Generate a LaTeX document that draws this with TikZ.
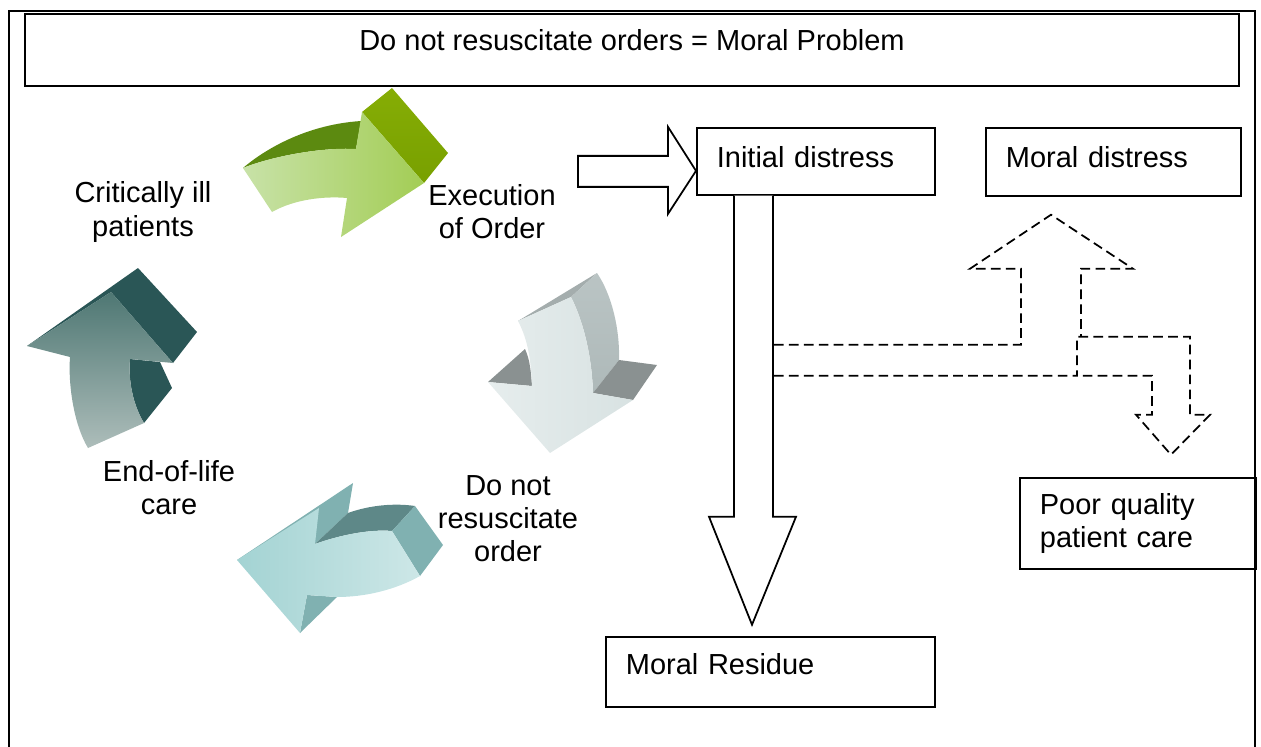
\documentclass[tikz,border=0pt]{standalone}
\usepackage{fontspec}
\setmainfont{Liberation Sans}
\usepackage{tikz}
\usetikzlibrary{calc, positioning}

\definecolor{grnpale}{HTML}{C8E2A8}
\definecolor{grnmid}{HTML}{A3CD55}
\definecolor{grnside}{HTML}{86AD05}
\definecolor{grnsidedk}{HTML}{78A000}
\definecolor{grndark}{HTML}{5C8A10}
\definecolor{tealtop}{HTML}{4E7773}
\definecolor{tealbot}{HTML}{ADBDBA}
\definecolor{tealdk}{HTML}{2A5656}
\definecolor{graytop}{HTML}{A4ADAD}
\definecolor{grayside}{HTML}{BAC4C4}
\definecolor{graysidedk}{HTML}{AEB9B9}
\definecolor{graydk}{HTML}{8A9191}
\definecolor{grayfront}{HTML}{E6EDED}
\definecolor{grayfront2}{HTML}{D8E2E2}
\definecolor{ltealfront}{HTML}{A3D3D3}
\definecolor{ltealfront2}{HTML}{CDE7E7}
\definecolor{ltealside}{HTML}{80B1B1}
\definecolor{ltealdk}{HTML}{5E8888}

\begin{document}
\begin{tikzpicture}[
    x=0.02cm, y=-0.02cm,
    txt/.style={font=\fontsize{16.5}{18.8}\selectfont, align=center},
    box/.style={draw, line width=1pt, txt, align=left, inner xsep=0.4cm, anchor=north west},
    blockarr/.style={draw, line width=1pt, fill=white, line join=miter},
    dasharr/.style={draw, line width=1pt, dash pattern=on 5.5pt off 3pt},
]
\useasboundingbox (0,0) rectangle (1261,747);

% Outer frame — open at the bottom
\draw[line width=1.4pt] (9,747) -- (9,11) -- (1255,11) -- (1255,747);

% Title box
\node[draw, line width=1pt, txt, minimum width=24.28cm, minimum height=1.44cm, text depth=0.4cm] (title) at (632,50) {Do not resuscitate orders = Moral Problem};

% Outcome boxes — text set at the left
\node[box, text width=3.96cm, minimum height=1.34cm, text depth=0.18cm] (initial) at (696,127) {Initial distress};
\node[box, text width=4.3cm, minimum height=1.36cm, text depth=0.18cm] (moraldist) at (985,127) {Moral distress};
\node[box, text width=5.78cm, minimum height=1.4cm, text depth=0.32cm] (residue) at (605,636) {Moral Residue};
\node[box, text width=3.92cm, minimum height=1.82cm] (poorcare) at (1019,477) {Poor quality\\patient care};

% Cycle labels
\node[txt] (critical) at (143,212) {Critically ill\\patients};
\node[txt] (execution) at (492,212) {Execution\\of Order};
\node[txt] (endlife) at (169,488) {End-of-life\\care};
\node[txt] (dnr) at (508,519) {Do not\\resuscitate\\order};

% Green arrow — top
\fill[grndark] (243,168) .. controls (258,155) and (300,125) .. (361,121) -- (356,149) .. controls (320,147) and (270,157) .. (243,168) -- cycle;
\shade[top color=grnside, bottom color=grnsidedk] (362,112) -- (392,88) -- (448,153) -- (424,183) -- cycle;
\shade[left color=grnpale, right color=grnmid] (243,168) .. controls (270,157) and (320,147) .. (356,149) -- (362,112) -- (424,183) -- (341,237) -- (347,198) .. controls (325,196) and (295,199) .. (272,212) -- cycle;

% Grey arrow — right
\fill[graytop] (518,321) -- (597,273) -- (571,297) -- cycle;
\shade[top color=grayside, bottom color=graysidedk] (571,297) -- (597,273) .. controls (612,295) and (620,330) .. (619,360) -- (593,393) .. controls (592,360) and (585,325) .. (571,297) -- cycle;
\fill[graydk] (593,393) -- (619,360) -- (657,365) -- (633,400) -- cycle;
\fill[graydk] (488,382) -- (525,349) .. controls (530,360) and (531,372) .. (532,386) -- cycle;
\shade[left color=grayfront, right color=grayfront2] (518,321) -- (571,297) .. controls (585,325) and (592,360) .. (593,393) -- (633,400) -- (550,453) -- (488,382) -- (532,386) .. controls (531,360) and (528,340) .. (518,321) -- cycle;

% Light teal arrow — bottom
\fill[ltealside] (237,560) -- (353,483) -- (348,513) -- (315,544) -- cycle;
\fill[ltealdk] (315,544) -- (348,513) .. controls (370,505) and (395,503) .. (415,506) -- (392,531) .. controls (370,529) and (340,535) .. (315,544) -- cycle;
\fill[ltealside] (392,531) -- (415,506) -- (443,545) -- (420,576) -- cycle;
\fill[ltealside] (307,595) -- (337,597) -- (300,633) -- cycle;
\shade[left color=ltealfront, right color=ltealfront2] (237,560) -- (319,508) -- (315,544) .. controls (340,535) and (370,529) .. (392,531) -- (420,576) .. controls (395,590) and (365,597) .. (337,597) -- (307,595) -- (300,633) -- cycle;

% Dark teal arrow — left
\fill[tealdk] (27,346) -- (138,268) -- (197,332) -- (173,363) -- (111,292) -- cycle;
\fill[tealdk] (130,359) -- (160,362) -- (172,388) -- (144,423) .. controls (133,405) and (128,380) .. (130,359) -- cycle;
\shade[top color=tealtop, bottom color=tealbot] (27,346) -- (111,292) -- (173,363) -- (130,359) .. controls (128,380) and (133,405) .. (144,423) -- (88,448) .. controls (74,425) and (68,385) .. (70,357) -- cycle;

% Block arrow — into initial distress
\coordinate (rtip) at ($(initial.west)+(0,9.5)$);
\draw[blockarr] (rtip) -- ++(-28,-44) -- ++(0,29) -- ++(-90,0) -- ++(0,31) -- ++(90,0) -- ++(0,27) -- cycle;

% Block arrow — down to moral residue
\coordinate (dtop) at ($(initial.south west)+(38,0)$);
\draw[blockarr] (dtop) -- ++(0,321) -- ++(-25,0) -- ++(43,108) -- ++(44,-108) -- ++(-23,0) -- ++(0,-321);

% Dashed branch — up to moral distress, down to poor care
\coordinate (branch) at ($(dtop)+(40,149)$);
\draw[dasharr] (branch) -- ++(247,0) -- ++(0,-76) -- ++(-51,0) -- ++(81,-54) -- ++(82,54) -- ++(-52,0) -- ++(0,68);
\draw[dasharr] ($(branch)+(0,31)$) -- ++(303,0) -- ++(0,-39) -- ++(113,0) -- ++(0,78) -- ++(20,0) -- ++(-39,40) -- ++(-35,-40) -- ++(16,0) -- ++(0,-39) -- ++(-75,0);

\end{tikzpicture}
\end{document}
